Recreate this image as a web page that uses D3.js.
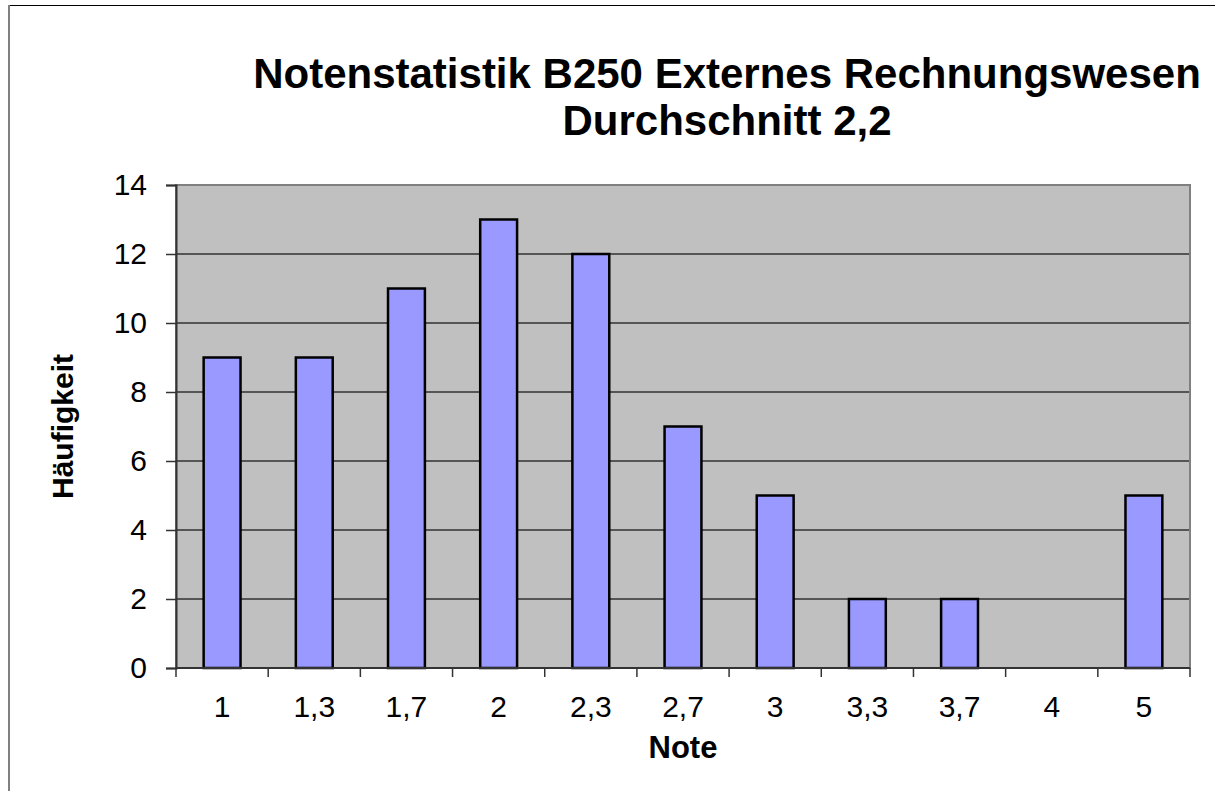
<!DOCTYPE html>
<html>
<head>
<meta charset="utf-8">
<script src="https://cdn.jsdelivr.net/npm/d3@7"></script>
<style>
  body { margin: 0; background: #fff; }
  text { font-family: "Liberation Sans", Arial, sans-serif; }
</style>
</head>
<body>
<div id="chart"></div>
<script>
// data
var noten = ["1", "1,3", "1,7", "2", "2,3", "2,7", "3", "3,3", "3,7", "4", "5"];
var haeufigkeit = [9, 9, 11, 13, 12, 7, 5, 2, 2, 0, 5];
var yTicks = [0, 2, 4, 6, 8, 10, 12, 14];
var titel = ["Notenstatistik B250 Externes Rechnungswesen", "Durchschnitt 2,2"];

var W = 1215, H = 791;
var margin = {top: 185, right: 25, bottom: 123, left: 176};
var w = W - margin.left - margin.right;
var h = H - margin.top - margin.bottom;

var svg = d3.select('#chart')
  .append('svg')
  .attr('width', W)
  .attr('height', H);

// chart frame (cut off at the right and bottom)
svg.append('line').attr('x1', 8).attr('x2', W).attr('y1', 5.5).attr('y2', 5.5)
  .attr('stroke', '#000').attr('stroke-width', 1);
svg.append('line').attr('x1', 9).attr('x2', 9).attr('y1', 5).attr('y2', H)
  .attr('stroke', '#808080').attr('stroke-width', 2);

var g = svg.append('g')
  .attr('transform', 'translate(' + margin.left + ',' + margin.top + ')');

var x = d3.scaleBand().domain(noten).range([0, w]).paddingInner(0.6).paddingOuter(0.3);
var xb = d3.scaleBand().domain(noten).range([0, w]);
var y = d3.scaleLinear().domain([0, 14]).range([h, 0]);

// plot area
g.append('rect')
  .attr('width', w).attr('height', h)
  .attr('fill', '#c0c0c0');

// gridlines
g.selectAll('.grid')
  .data(yTicks.filter(function(d) { return d > 0 && d < 14; }))
  .enter().append('line')
  .attr('x1', 0).attr('x2', w)
  .attr('y1', function(d) { return y(d); })
  .attr('y2', function(d) { return y(d); })
  .attr('stroke', '#555').attr('stroke-width', 2);

g.append('rect')
  .attr('width', w).attr('height', h)
  .attr('fill', 'none')
  .attr('stroke', '#808080').attr('stroke-width', 2);

// bars
g.selectAll('.bar')
  .data(haeufigkeit)
  .enter().append('rect')
  .attr('class', 'bar')
  .attr('x', function(d, i) { return x(noten[i]); })
  .attr('y', function(d) { return y(d); })
  .attr('width', x.bandwidth())
  .attr('height', function(d) { return h - y(d); })
  .attr('fill', function(d) { return d > 0 ? '#9999ff' : 'none'; })
  .attr('stroke', function(d) { return d > 0 ? '#000' : 'none'; })
  .attr('stroke-width', 2.5);

// y axis
var yAxis = g.append('g')
  .call(d3.axisLeft(y).tickValues(yTicks).tickSize(10).tickPadding(19));
yAxis.select('.domain').attr('stroke', '#333').attr('stroke-width', 2);
yAxis.selectAll('.tick line').attr('stroke', '#333').attr('stroke-width', 1.5);
yAxis.selectAll('.tick text')
  .attr('font-size', 30).attr('fill', '#000')
  .attr('font-family', '"Liberation Sans", Arial, sans-serif');

// x axis: ticks between the categories
var xAxis = g.append('g')
  .attr('transform', 'translate(0,' + h + ')');
xAxis.append('line').attr('x1', 0).attr('x2', w).attr('stroke', '#333').attr('stroke-width', 2);
var grenzen = noten.map(function(d) { return xb(d); }).concat([w]);
xAxis.selectAll('.tk')
  .data(grenzen)
  .enter().append('line')
  .attr('x1', function(d) { return d; }).attr('x2', function(d) { return d; })
  .attr('y1', 0).attr('y2', 9)
  .attr('stroke', '#333').attr('stroke-width', 1.5);
xAxis.selectAll('.lbl')
  .data(noten)
  .enter().append('text')
  .attr('x', function(d) { return xb(d) + xb.bandwidth() / 2; })
  .attr('y', 49)
  .attr('text-anchor', 'middle')
  .attr('font-size', 30)
  .text(function(d) { return d; });

// axis titles
svg.append('text')
  .attr('x', margin.left + w / 2).attr('y', 758)
  .attr('text-anchor', 'middle')
  .attr('font-size', 31).attr('font-weight', 'bold')
  .text('Note');

svg.append('text')
  .attr('transform', 'translate(73,' + (margin.top + h / 2) + ') rotate(-90)')
  .attr('text-anchor', 'middle')
  .attr('font-size', 30).attr('font-weight', 'bold')
  .text('Häufigkeit');

// title
svg.selectAll('.titel')
  .data(titel)
  .enter().append('text')
  .attr('x', 727)
  .attr('y', function(d, i) { return 88 + i * 47; })
  .attr('text-anchor', 'middle')
  .attr('font-size', 42).attr('font-weight', 'bold')
  .text(function(d) { return d; });
</script>
</body>
</html>
